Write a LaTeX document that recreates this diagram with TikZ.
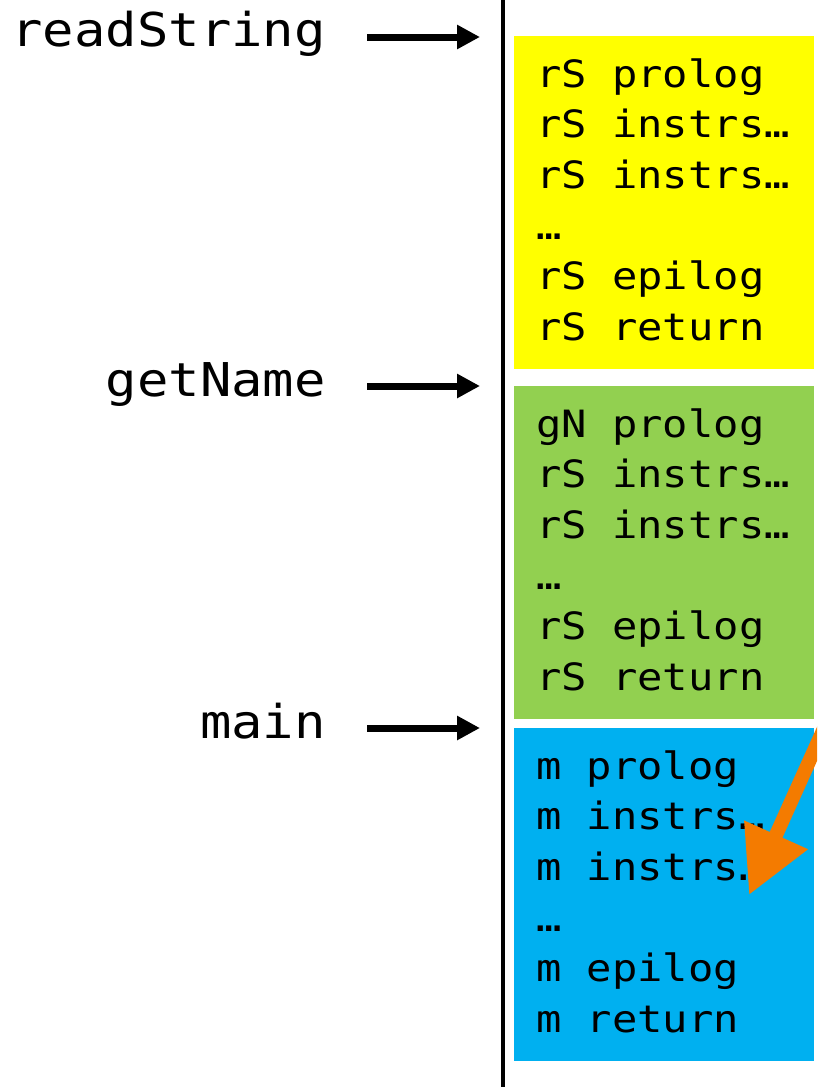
\documentclass[tikz,border=0pt]{standalone}
\usepackage{fontspec}
\newfontfamily\mono[FakeStretch=1.12]{DejaVu Sans Mono}
\usetikzlibrary{arrows.meta}
\definecolor{cyel}{RGB}{255,255,0}
\definecolor{cgrn}{RGB}{146,208,80}
\definecolor{cblu}{RGB}{0,176,240}
\definecolor{corg}{RGB}{244,123,0}
\begin{document}
\begin{tikzpicture}[x=1pt,y=-1pt,
  frame/.style={draw=none,minimum width=300pt,minimum height=333pt,anchor=north west,inner sep=0pt,outer sep=0pt},
  codeline/.style={anchor=base west,inner sep=0pt,font=\mono\fontsize{37.6}{37.6}\selectfont},
  lab/.style={anchor=base east,inner sep=0pt,font=\mono\fontsize{46.6}{46.6}\selectfont},
  ptr/.style={line width=7pt,-{Triangle[length=23pt,width=23pt]}},
]
\useasboundingbox (0,0) rectangle (817,1087);
\begin{scope}
\clip (0,0) rectangle (817,1087);
% stack line
\coordinate (top) at (503,0);
\coordinate (bot) at (503,1087);
\draw[line width=4pt] (top) -- (bot);
% frames
\node[frame,fill=cyel] (rs) at (514,36) {};
\node[frame,fill=cgrn] (gn) at (514,386) {};
\node[frame,fill=cblu] (mn) at (514,728) {};
% texts
\foreach \t [count=\i] in {rS prolog,rS instrs…,rS instrs…,…,rS epilog,rS return}
  \node[codeline] (rs\i) at (536,{87+(\i-1)*50.7}) {\t};
\foreach \t [count=\i] in {gN prolog,rS instrs…,rS instrs…,…,rS epilog,rS return}
  \node[codeline] (gn\i) at (536,{437+(\i-1)*50.7}) {\t};
\foreach \t [count=\i] in {m prolog,m instrs…,m instrs…,…,m epilog,m return}
  \node[codeline] (mn\i) at (536,{779+(\i-1)*50.7}) {\t};
% labels
\node[lab] (lrs) at (326,46.5) {readString};
\node[lab] (lgn) at (326,396) {getName};
\node[lab] (lmn) at (326,738) {main};
\coordinate (a1s) at (367,37);  \coordinate (a1e) at (480,37);
\coordinate (a2s) at (367,386); \coordinate (a2e) at (480,386);
\coordinate (a3s) at (367,728); \coordinate (a3e) at (480,728);
\draw[ptr] (a1s) -- (a1e);
\draw[ptr] (a2s) -- (a2e);
\draw[ptr] (a3s) -- (a3e);
% orange arrow
\coordinate (os) at (826,724);
\coordinate (oe) at (749,895);
\draw[corg,line width=14pt,-{Triangle[length=66pt,width=66pt]}] (os) -- (oe);
\end{scope}
\end{tikzpicture}
\end{document}
